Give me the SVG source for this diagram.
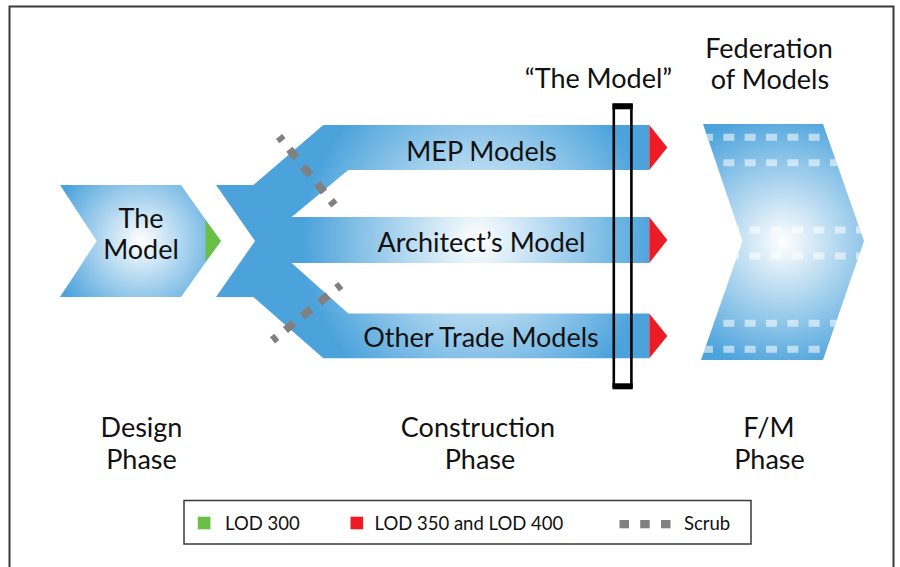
<svg xmlns="http://www.w3.org/2000/svg" width="900" height="567" viewBox="0 0 900 567">
  <style>
    .t { font-family: Lato, "Open Sans", "Liberation Sans", sans-serif; fill: #111; }
    .big { font-size: 27px; text-anchor: middle; }
    .leg { font-size: 18.5px; }
    .red { fill: #ed1c24; }
    .scrub { stroke: #808080; stroke-width: 8; stroke-dasharray: 11 11; stroke-dashoffset: 5.5; fill: none; }
    .film { stroke: #ffffff; stroke-opacity: 0.55; stroke-width: 7; stroke-dasharray: 11 10.33; fill: none; }
  </style>
  <defs>
    <radialGradient id="gLeft" gradientUnits="userSpaceOnUse" cx="141" cy="241" r="92">
      <stop offset="0" stop-color="#ffffff"/>
      <stop offset="1" stop-color="#4ca3dc"/>
    </radialGradient>
    <radialGradient id="gFork" gradientUnits="userSpaceOnUse" cx="478" cy="240" r="175">
      <stop offset="0" stop-color="#ffffff"/>
      <stop offset="1" stop-color="#4ca3dc"/>
    </radialGradient>
    <radialGradient id="gRight" gradientUnits="userSpaceOnUse" cx="783" cy="242" r="130">
      <stop offset="0" stop-color="#ffffff"/>
      <stop offset="1" stop-color="#4ca3dc"/>
    </radialGradient>
    <clipPath id="clipRight">
      <polygon points="703,124 823,124 864,241 823,360 701,360 742.5,241"/>
    </clipPath>
  </defs>

  <rect x="9.5" y="6.5" width="884" height="600" fill="none" stroke="#3a3a3a" stroke-width="2"/>

  <g id="node-design">
    <polygon points="60,185 181,185 220.7,241 181,297 60,297 96.7,241" fill="url(#gLeft)"/>
    <polygon points="205.5,220 221,241 205.5,262" fill="#6abf45"/>
    <text class="t big" x="141" y="228">The</text>
    <text class="t big" x="141" y="259">Model</text>
  </g>

  <g id="node-construction">
    <polygon points="216,185 253.3,185 323.3,125 649.3,125 649.3,170 348.3,170 291.7,217 649.3,217 649.3,263 291.7,263 348.3,313.5 649.3,313.5 649.3,358.3 323.3,358.3 253.3,297 216,297 255,241" fill="url(#gFork)"/>
    <polygon class="red" points="649.3,125 667.3,147.5 649.3,170"/>
    <polygon class="red" points="649.3,217 667.3,240 649.3,263"/>
    <polygon class="red" points="649.3,313.5 667.3,336 649.3,358.3"/>
    <text class="t big" x="481.5" y="160.5">MEP Models</text>
    <text class="t big" x="481.5" y="252">Architect’s Model</text>
    <text class="t big" x="481" y="347">Other Trade Models</text>
  </g>

  <g id="scrub">
    <line class="scrub" x1="279" y1="136.5" x2="334.4" y2="204.9"/>
    <line class="scrub" x1="340.9" y1="285" x2="272.5" y2="340.4"/>
  </g>

  <g id="node-the-model-frame">
    <rect x="613.8" y="105" width="17.6" height="282" fill="none" stroke="#000" stroke-width="2.6"/>
    <rect x="612.5" y="103.3" width="20.2" height="6" fill="#000"/>
    <rect x="612.5" y="383.3" width="20.2" height="6" fill="#000"/>
    <text class="t big" x="598.5" y="88">“The Model”</text>
  </g>

  <g id="node-federation">
    <polygon points="703,124 823,124 864,241 823,360 701,360 742.5,241" fill="url(#gRight)"/>
    <g clip-path="url(#clipRight)">
      <line class="film" x1="702" y1="137.3" x2="870" y2="137.3"/>
      <line class="film" x1="702" y1="162.7" x2="870" y2="162.7"/>
      <line class="film" x1="706.7" y1="230" x2="870" y2="230"/>
      <line class="film" x1="706.7" y1="256" x2="870" y2="256"/>
      <line class="film" x1="702" y1="323.3" x2="870" y2="323.3"/>
      <line class="film" x1="702" y1="349.3" x2="870" y2="349.3"/>
    </g>
    <text class="t big" x="769" y="57.5">Federation</text>
    <text class="t big" x="770" y="89">of Models</text>
  </g>

  <g id="phase-labels">
    <text class="t big" x="141.5" y="437">Design</text>
    <text class="t big" x="141.5" y="469">Phase</text>
    <text class="t big" x="478" y="437">Construction</text>
    <text class="t big" x="480" y="469">Phase</text>
    <text class="t big" x="769" y="437">F/M</text>
    <text class="t big" x="769.5" y="469">Phase</text>
  </g>

  <g id="legend">
    <rect x="184" y="500.5" width="567" height="43.5" fill="#fff" stroke="#3a3a3a" stroke-width="1.5"/>
    <rect x="197.8" y="516.7" width="12.6" height="12.6" fill="#6abf45"/>
    <text class="t leg" x="225" y="530">LOD 300</text>
    <rect x="350.5" y="516.7" width="12.6" height="12.6" class="red"/>
    <text class="t leg" x="374.5" y="530">LOD 350 and LOD 400</text>
    <rect x="619.5" y="520" width="9.5" height="8.3" fill="#808080"/>
    <rect x="640.2" y="520" width="9.5" height="8.3" fill="#808080"/>
    <rect x="661" y="520" width="9.5" height="8.3" fill="#808080"/>
    <text class="t leg" x="684" y="530">Scrub</text>
  </g>
</svg>
